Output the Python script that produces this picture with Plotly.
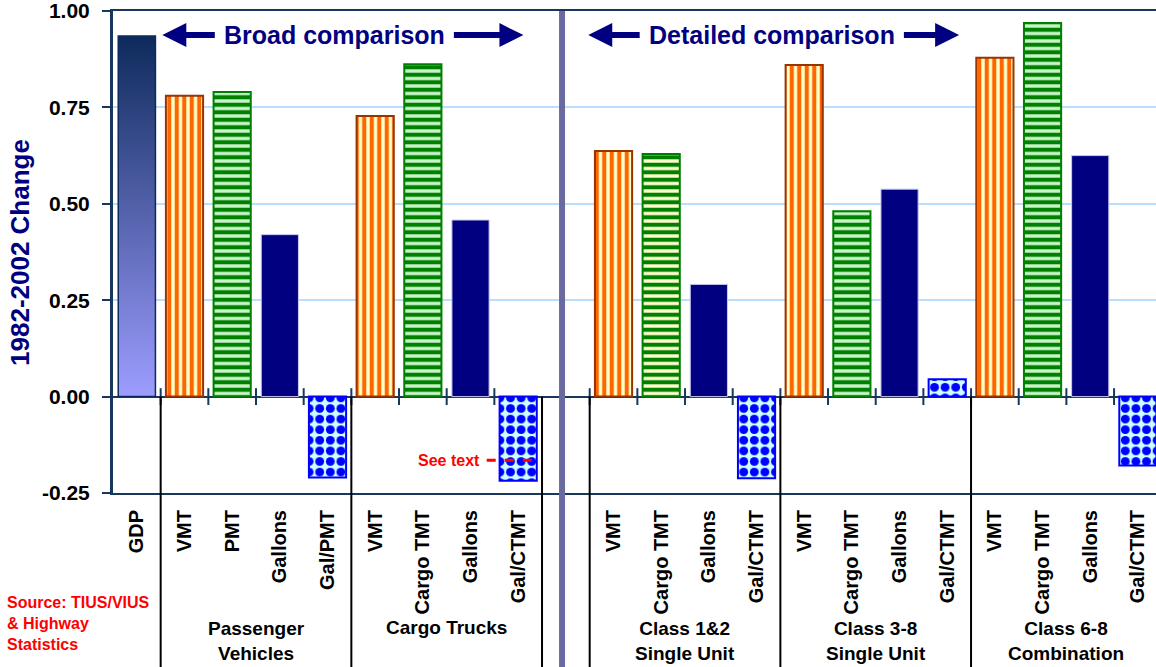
import plotly.graph_objects as go

# ---------------- data ----------------
categories = ["GDP", "VMT", "PMT", "Gallons", "Gal/PMT",
              "VMT", "Cargo TMT", "Gallons", "Gal/CTMT", "",
              "VMT", "Cargo TMT", "Gallons", "Gal/CTMT",
              "VMT", "Cargo TMT", "Gallons", "Gal/CTMT",
              "VMT", "Cargo TMT", "Gallons", "Gal/CTMT"]
values = [0.935, 0.780, 0.790, 0.420, -0.210,
          0.728, 0.862, 0.458, -0.218, None,
          0.637, 0.629, 0.291, -0.212,
          0.860, 0.481, 0.538, 0.045,
          0.879, 0.969, 0.625, -0.179]
series = ["gdp", "vmt", "tmt", "gal", "ratio",
          "vmt", "tmt", "gal", "ratio", None,
          "vmt", "tmt2", "gal", "ratio",
          "vmt", "tmt", "gal", "ratio",
          "vmt", "tmt", "gal", "ratio"]
groups = ["Passenger<br>Vehicles", "Cargo Trucks", "Class 1&2<br>Single Unit",
          "Class 3-8<br>Single Unit", "Class 6-8<br>Combination"]
group_members = [(1, 4), (5, 8), (10, 13), (14, 17), (18, 21)]
y_ticks = [-0.25, 0.0, 0.25, 0.5, 0.75, 1.0]
y_ticktext = ["-0.25", "0.00", "0.25", "0.50", "0.75", "1.00"]
see_text_value = -0.165
source_text = "Source: TIUS/VIUS<br>& Highway<br>Statistics"

# ---------------- styling ----------------
NAVY = "#000080"
AXIS = "#17375E"
FONT = "Liberation Sans, Arial, sans-serif"
BAR_W = 0.78
Y_RANGE = [-0.25, 1.0]
X_RANGE = [-0.5, 21.38]

idx = list(range(len(categories)))


def pick(kind):
    xs = [i for i in idx if series[i] == kind]
    ys = [values[i] for i in xs]
    return xs, ys


fig = go.Figure()


def pattern_bar(kind, bg, fg, border, shape, size, solidity, lw=2):
    x, y = pick(kind)
    fig.add_trace(go.Bar(
        x=x, y=y, width=BAR_W,
        marker=dict(color=bg, line=dict(color=border, width=lw),
                    pattern=dict(shape=shape, fgcolor=fg, bgcolor=bg,
                                 size=size, solidity=solidity, fillmode="replace")),
        hoverinfo="x+y"))


# VMT bars: orange vertical stripes
pattern_bar("vmt", "#FFFFC8", "#FF6600", "#993300", "|", 7.5, 0.55)
# TMT / PMT bars: green horizontal stripes
pattern_bar("tmt", "#C8F5C8", "#008000", "#008000", "-", 7.5, 0.55)
pattern_bar("tmt2", "#FFFFCC", "#008000", "#008000", "-", 7.5, 0.55)
# Gallons per mile: blue checker-like
pattern_bar("ratio", "#CCFFFF", "#0000FF", "#0000FF", ".", 10.6, 0.55)

# Gallons bars: solid navy
x, y = pick("gal")
fig.add_trace(go.Bar(
    x=x, y=y, width=BAR_W,
    marker=dict(color=NAVY, line=dict(color="#C8C8F0", width=1)),
    hoverinfo="x+y"))

# GDP bar with vertical gradient
x, y = pick("gdp")
for xi, yi in zip(x, y):
    fig.add_trace(go.Scatter(
        x=[xi - BAR_W / 2, xi + BAR_W / 2, xi + BAR_W / 2, xi - BAR_W / 2, xi - BAR_W / 2],
        y=[0, 0, yi, yi, 0],
        mode="lines", fill="toself",
        line=dict(color="#0E2A5C", width=1.5),
        fillgradient=dict(type="vertical",
                          colorscale=[[0, "#9D9DFF"], [1, "#0E2A5C"]]),
        hoverinfo="skip"))

# crossing tick marks on the zero line at category boundaries
bounds = [i + 0.5 for i in idx[:-1] if i != 8]
fig.add_trace(go.Scatter(
    x=bounds, y=[0] * len(bounds), mode="markers",
    marker=dict(symbol="line-ns", size=12, line=dict(color=AXIS, width=2)),
    hoverinfo="skip", cliponaxis=False))

# ---------------- layout ----------------
paper_zero = (0 - Y_RANGE[0]) / (Y_RANGE[1] - Y_RANGE[0])
bottom_paper = -0.37

shapes = []
for b in [0.5, 4.5, 8.5, 9.5, 13.5, 17.5]:
    shapes.append(dict(type="line", xref="x", yref="paper", x0=b, x1=b,
                       y0=paper_zero, y1=bottom_paper,
                       line=dict(color="black", width=2), layer="above"))
shapes.append(dict(type="line", xref="x", yref="paper", x0=8.92, x1=8.92,
                   y0=1.0, y1=bottom_paper,
                   line=dict(color="#6A6A9E", width=6), layer="above"))
shapes.append(dict(type="line", xref="x", yref="y", x0=7.34, x1=8.4,
                   y0=see_text_value, y1=see_text_value,
                   line=dict(color="#FF0000", width=3, dash="dash"), layer="above"))

annotations = []
for g, (a, b) in zip(groups, group_members):
    two = "<br>" in g
    annotations.append(dict(text=g, x=(a + b) / 2, xref="x", y=-0.307 if two else -0.28,
                            yref="paper", showarrow=False, xanchor="center",
                            yanchor="middle",
                            font=dict(family=FONT, size=19, color="black", weight="bold")))
AY = 0.9375
for label, xc, (h1, t1), (t2, h2) in [
        ("Broad comparison", 4.14, (0.535, 1.667), (6.62, 8.11)),
        ("Detailed comparison", 13.33, (9.47, 10.58), (16.06, 17.25))]:
    annotations.append(dict(text=label, x=xc, y=AY, xref="x", yref="y", showarrow=False,
                            xanchor="center", yanchor="middle",
                            font=dict(family=FONT, size=25, color=NAVY, weight="bold")))
    for head, tail in [(h1, t1), (h2, t2)]:
        annotations.append(dict(text="", x=head, y=AY, ax=tail, ay=AY,
                                xref="x", yref="y", axref="x", ayref="y",
                                showarrow=True, arrowhead=2, arrowsize=0.8,
                                arrowwidth=6, arrowcolor=NAVY, standoff=0,
                                startstandoff=0))
annotations.append(dict(text="See text", x=7.25, y=see_text_value, xref="x", yref="y",
                        showarrow=False, xanchor="right", yanchor="middle",
                        font=dict(family=FONT, size=16, color="#FF0000", weight="bold")))
annotations.append(dict(text=source_text, x=-0.1035, y=-0.27, xref="paper", yref="paper",
                        showarrow=False, xanchor="left", yanchor="middle", align="left",
                        font=dict(family=FONT, size=16, color="#FF0000", weight="bold")))
annotations.append(dict(text="1982-2002 Change", x=-0.0892, y=0.5, xref="paper",
                        yref="paper", showarrow=False, textangle=-90,
                        xanchor="center", yanchor="middle",
                        font=dict(family=FONT, size=26, color=NAVY, weight="bold")))

tick_idx = [i for i in idx if categories[i]]
fig.update_layout(
    width=1156, height=667,
    margin=dict(l=113, r=0, t=11, b=174, autoexpand=False),
    plot_bgcolor="white", paper_bgcolor="white",
    showlegend=False, barmode="overlay",
    font=dict(family=FONT),
    xaxis=dict(range=X_RANGE, tickmode="array", tickvals=tick_idx,
               ticktext=[categories[i] for i in tick_idx], tickangle=-90,
               ticks="", showgrid=False, zeroline=False, automargin=False,
               showline=True, linecolor=AXIS, linewidth=2, mirror=True,
               ticklabelstandoff=7,
               tickfont=dict(family=FONT, size=20, color="black", weight="bold")),
    yaxis=dict(range=Y_RANGE, tickmode="array", tickvals=y_ticks, ticktext=y_ticktext,
               ticks="outside", ticklen=8, tickwidth=2, tickcolor=AXIS, automargin=False,
               showline=True, linecolor=AXIS, linewidth=3,
               showgrid=True, gridcolor="#BBDDFF", gridwidth=1.5,
               zeroline=True, zerolinecolor=AXIS, zerolinewidth=2,
               ticklabelstandoff=8, ticklabeloverflow="allow",
               tickfont=dict(family=FONT, size=21, color="black", weight="bold")),
    shapes=shapes, annotations=annotations,
)

fig.write_html("out.html")
